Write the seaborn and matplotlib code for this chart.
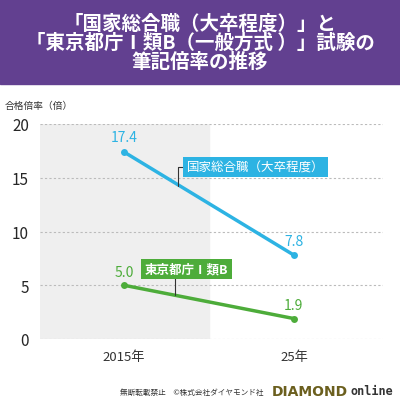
import numpy as np
import pandas as pd
import seaborn as sns
import matplotlib.pyplot as plt

years = ['2015年', '25年']
national = [17.4, 7.8]
tokyo = [5.0, 1.9]
series_names = ['国家総合職（大卒程度）', '東京都庁Ⅰ類B']

sns.set_theme(style='white')
plt.rcParams['font.family'] = ['Noto Sans CJK JP', 'DejaVu Sans']

BLUE = '#2db3e3'
GREEN = '#4dac3a'
PURPLE = '#624090'

df = pd.DataFrame({
    'x': [0, 1, 0, 1],
    'y': national + tokyo,
    's': [series_names[0]] * 2 + [series_names[1]] * 2,
})

fig = plt.figure(figsize=(4.0, 4.06), dpi=100)
fig.patches.append(plt.Rectangle((0, 1 - 85 / 406), 1, 85 / 406,
                                 transform=fig.transFigure, color=PURPLE, zorder=0))
fig.text(0.5, 1 - 43 / 406,
         '「国家総合職（大卒程度）」と\n「東京都庁Ⅰ類B（一般方式 ）」試験の\n筆記倍率の推移',
         ha='center', va='center', color='white', fontsize=14, fontweight='bold',
         linespacing=0.98)

ax = fig.add_axes([40 / 400, 1 - 340 / 406, 343 / 400, 215 / 406])
ax.axvspan(-0.5, 0.5, color='#efefef', zorder=0)
sns.lineplot(data=df, x='x', y='y', hue='s', palette=[BLUE, GREEN],
             marker='o', markersize=5, markeredgewidth=0, linewidth=2.5,
             legend=False, ax=ax)
ax.set_xlim(-0.494, 1.524)
ax.set_ylim(0, 20)
ax.set_yticks([0, 5, 10, 15, 20])
ax.set_xticks([0, 1])
ax.set_xticklabels(years, fontsize=9.5, color='#333333')
ax.tick_params(axis='y', labelsize=11, length=0, pad=8)
ax.tick_params(axis='x', length=0, pad=8)
ax.set_xlabel('')
ax.set_ylabel('')
for v in [0, 5, 10, 15, 20]:
    ax.axhline(v, color='#bbbbbb', ls=(0, (2, 2)), lw=0.8, zorder=0.5)
for s in ax.spines.values():
    s.set_visible(False)

for i, v in enumerate(national):
    ax.text(i, v + 0.7, f'{v:.1f}', color=BLUE, ha='center', va='bottom', fontsize=10)
for i, v in enumerate(tokyo):
    ax.text(i, v + 0.6, f'{v:.1f}', color=GREEN, ha='center', va='bottom', fontsize=10)

ax.plot([0.32, 0.32, 0.37], [14.2, 16.0, 16.0], color='#333333', lw=0.8)
ax.text(0.37, 16.0, series_names[0], color='white', fontsize=9, va='center',
        bbox=dict(boxstyle='square,pad=0.3', fc=BLUE, ec='none'))
ax.plot([0.3, 0.3], [4.1, 6.0], color='#333333', lw=0.8)
ax.text(0.12, 6.5, series_names[1], color='white', fontsize=9, va='center',
        fontweight='bold', bbox=dict(boxstyle='square,pad=0.3', fc=GREEN, ec='none'))

fig.text(5 / 400, 1 - 106 / 406, '合格倍率（倍）', fontsize=7, va='center', color='#333333')
fig.text(120 / 400, 1 - 393 / 406, '無断転載禁止　©株式会社ダイヤモンド社',
         fontsize=5.5, va='center', color='#333333')
fig.text(272 / 400, 1 - 392 / 406, 'DIAMOND', fontsize=10, fontweight='bold',
         va='center', color='#6b5f1e', family='DejaVu Sans Condensed')
fig.text(393 / 400, 1 - 392 / 406, 'online', fontsize=8.5, fontweight='bold',
         va='center', ha='right', color='#333333', family='DejaVu Sans Mono')

fig.savefig('out.png', dpi=100)
